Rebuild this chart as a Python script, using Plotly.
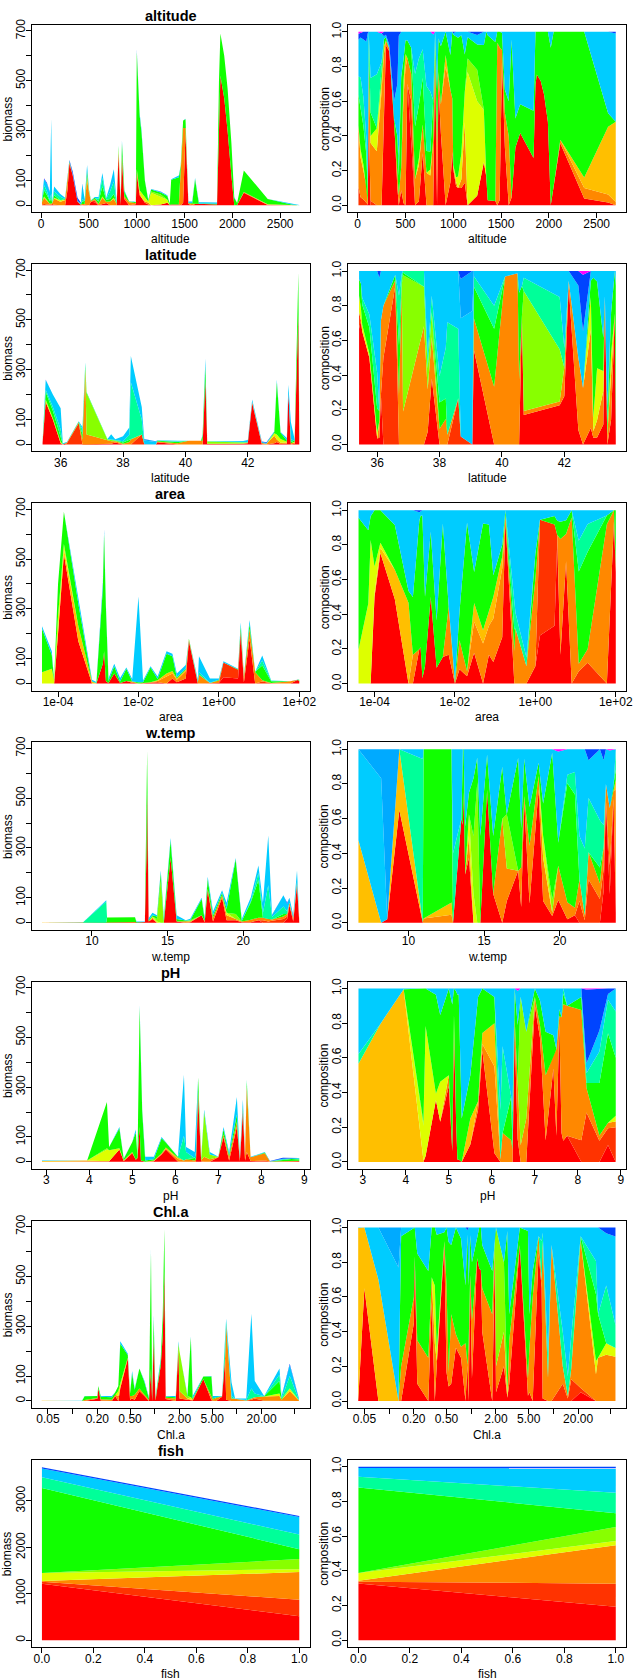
import plotly.graph_objects as go

# ---------------- data ----------------
LAYER_COLORS = ["#FF0000", "#FF3300", "#FF8800", "#FFBF00", "#DDFF00", "#88FF00",
                "#11FF00", "#00FF99", "#00CCFF", "#00AAFF", "#0044FF", "#FF00FF"]
# each row: x, then biomass of the 12 stacked groups (bottom -> top, colours above)

ALTITUDE = [
    [8, 0, 3, 10, 0, 0, 0, 5, 3, 6, 0, 1, 0.3],
    [30, 0, 5, 25, 0, 5, 0, 25, 20, 25, 0, 3, 0.5],
    [60, 0, 3, 15, 0, 3, 0, 20, 15, 30, 0, 4, 0],
    [90, 0, 1, 5, 0, 0, 0, 10, 5, 30, 0, 3, 0],
    [105, 2, 0, 5, 0, 0, 0, 20, 20, 300, 0, 3, 0],
    [115, 5, 0, 3, 0, 0, 0, 2, 0, 0, 0, 0, 0],
    [135, 0, 2, 25, 0, 3, 0, 10, 15, 20, 0, 0, 0],
    [200, 0, 0, 14, 0, 6, 0, 0, 14, 11, 0, 0, 0],
    [250, 0, 0, 20, 2, 0, 0, 3, 0, 5, 0, 0, 0.3],
    [275, 60, 5, 40, 5, 0, 0, 5, 0, 2, 0, 3, 0],
    [295, 168, 0, 5, 0, 0, 0, 3, 0, 3, 0, 3, 0],
    [330, 120, 0, 2, 0, 0, 0, 0, 0, 3, 0, 10, 0],
    [380, 15, 0, 0, 0, 0, 0, 0, 0, 3, 0, 12, 0],
    [415, 1, 0, 1, 0, 0, 0, 2, 0, 3, 0, 3, 0],
    [430, 0, 0, 5, 0, 0, 0, 10, 10, 60, 0, 2, 0],
    [455, 2, 0, 3, 0, 0, 0, 12, 0, 6, 0, 0, 0],
    [480, 2, 0, 100, 10, 5, 0, 20, 0, 25, 0, 0, 0],
    [500, 0, 0, 50, 5, 0, 0, 5, 0, 3, 0, 0, 0],
    [520, 14, 0, 3, 0, 0, 0, 2, 0, 1, 0, 0, 0],
    [560, 12, 8, 5, 0, 0, 0, 5, 0, 3, 0, 0, 0],
    [600, 0, 0, 5, 0, 0, 0, 10, 10, 8, 0, 0, 0],
    [640, 3, 0, 27, 0, 5, 0, 40, 35, 20, 0, 0, 0],
    [680, 9, 0, 5, 0, 0, 0, 8, 5, 3, 0, 0, 0],
    [720, 0, 0, 15, 0, 0, 0, 10, 30, 25, 0, 0, 0],
    [760, 0, 0, 25, 0, 5, 0, 15, 50, 50, 0, 0, 0],
    [790, 0, 0, 5, 0, 0, 0, 3, 0, 5, 0, 0, 0.2],
    [810, 210, 0, 0, 0, 15, 0, 10, 5, 0, 0, 0, 0],
    [830, 0, 0, 5, 0, 0, 0, 5, 0, 5, 0, 0, 0],
    [845, 180, 0, 20, 0, 0, 0, 50, 0, 10, 0, 0, 0],
    [870, 25, 0, 10, 0, 0, 0, 20, 0, 5, 0, 0, 0],
    [920, 0, 0, 12, 1, 0, 0, 2, 0, 0, 0, 0, 0],
    [970, 2, 0, 8, 0, 0, 0, 3, 0, 2, 0, 0, 0],
    [990, 4, 0, 4, 0, 0, 0, 5, 0, 0, 0, 0, 0],
    [1000, 130, 0, 10, 0, 5, 0, 470, 0, 5, 0, 5, 0],
    [1030, 40, 0, 10, 0, 10, 0, 300, 0, 10, 0, 0, 0],
    [1050, 30, 0, 0, 0, 20, 0, 240, 0, 10, 0, 0, 0],
    [1085, 10, 0, 5, 0, 15, 0, 68, 0, 2, 0, 0, 0],
    [1120, 3, 0, 8, 0, 4, 0, 5, 0, 3, 0, 0, 0],
    [1150, 0, 0, 0, 0, 50, 5, 8, 0, 2, 0, 0, 0],
    [1250, 3, 0, 0, 0, 30, 10, 8, 0, 3, 0, 1, 0],
    [1320, 10, 0, 0, 0, 12, 0, 15, 0, 3, 0, 0, 0],
    [1345, 1, 0, 0, 0, 0, 0, 5, 0, 0, 0, 0, 0],
    [1360, 3, 0, 0, 0, 0, 0, 100, 0, 2, 0, 0, 0],
    [1440, 3, 0, 0, 0, 0, 0, 110, 0, 7, 0, 0, 0],
    [1460, 0, 0, 150, 0, 0, 0, 10, 0, 0, 0, 0, 0],
    [1485, 10, 0, 300, 0, 0, 0, 30, 0, 0, 0, 0, 0],
    [1510, 290, 0, 20, 0, 0, 0, 35, 0, 2, 0, 0, 0],
    [1540, 5, 0, 3, 0, 0, 0, 2, 0, 5, 0, 0, 0],
    [1580, 0, 0, 6, 0, 0, 0, 3, 0, 6, 0, 0, 0],
    [1610, 5, 0, 0, 0, 0, 0, 100, 0, 5, 0, 0, 0],
    [1650, 4, 0, 0, 0, 0, 0, 2, 0, 6, 0, 0, 0],
    [1700, 5, 0, 0, 0, 0, 0, 2, 0, 5, 0, 0, 0],
    [1840, 3, 0, 0, 0, 0, 0, 3, 0, 5, 0, 0, 0],
    [1860, 350, 0, 0, 0, 0, 0, 150, 0, 0, 0, 0, 0],
    [1875, 520, 0, 0, 0, 0, 0, 170, 0, 0, 0, 0, 0],
    [1915, 430, 0, 0, 0, 0, 0, 170, 0, 0, 0, 0, 0],
    [1950, 300, 0, 0, 0, 0, 0, 170, 0, 0, 0, 0, 0],
    [1990, 120, 0, 0, 0, 0, 0, 130, 0, 0, 0, 0, 0],
    [2020, 0, 0, 0, 0, 0, 0, 30, 0, 3, 0, 0, 0],
    [2050, 1, 0, 0, 0, 0, 0, 8, 0, 0, 0, 0, 0],
    [2120, 50, 0, 3, 0, 0, 0, 87, 0, 0, 0, 0, 0],
    [2370, 1, 0, 1.5, 1.5, 0, 0, 21, 0, 0, 0, 0, 0],
    [2620, 0.1, 0, 0.3, 2.5, 0, 0, 0.5, 0, 3, 0, 0, 0],
    [2700, 0, 0, 0.02, 0.5, 0, 0, 0, 0, 0.55, 0, 0.01, 0],
]

LATITUDE = [
    [35.42, 7, 1, 0, 0, 1, 0, 1, 0, 0.5, 0, 0, 0],
    [35.48, 100, 0, 0, 0, 10, 0, 20, 0, 10, 0, 0, 0],
    [35.52, 170, 0, 0, 0, 10, 0, 30, 10, 40, 0, 0, 0.3],
    [35.75, 100, 0, 0, 0, 5, 0, 30, 15, 50, 0, 0, 0],
    [36.0, 5, 0, 0, 0, 5, 0, 20, 30, 85, 0, 0, 0],
    [36.07, 0.2, 0, 0.5, 0, 0, 0, 0.3, 0, 4, 0, 0.2, 0],
    [36.12, 2, 0, 3, 0, 0, 0, 0, 0, 2, 0, 0, 0],
    [36.2, 0, 5, 3, 0, 0, 0, 0, 0, 2, 0, 0, 0],
    [36.58, 0, 85, 3, 0, 0, 0, 3, 0, 2, 0, 0, 0],
    [36.7, 0, 0, 20, 0, 0, 0, 20, 20, 10, 0, 0, 0],
    [36.79, 0, 0, 300, 0, 5, 0, 10, 10, 5, 0, 0, 0],
    [36.83, 0, 0, 40, 0, 0, 165, 3, 2, 0, 0, 0, 0],
    [37.5, 0, 0, 15, 0, 0, 5, 0, 2, 0, 0, 0, 0],
    [37.62, 3, 0, 10, 0, 0, 5, 0, 3, 20, 0, 0, 0],
    [37.75, 8, 0, 5, 0, 0, 3, 0, 2, 3, 0, 0, 0],
    [38.0, 0, 0, 3, 0, 0, 0, 5, 5, 20, 0, 0, 0],
    [38.2, 0, 0, 10, 0, 0, 0, 8, 20, 30, 0, 0, 0],
    [38.25, 0, 0, 20, 0, 0, 0, 0, 230, 105, 0, 0, 0],
    [38.6, 0, 40, 0, 0, 0, 0, 0, 60, 50, 0, 0, 0],
    [38.68, 0, 1, 0, 0, 0, 0, 0, 0, 15, 5, 1, 0],
    [39.05, 0, 0, 0, 0, 0, 0, 0, 0, 10, 3, 0, 0],
    [39.1, 9, 0, 3, 0, 0, 0, 3, 1, 0.5, 0, 0, 0],
    [39.75, 0, 0, 5, 0, 0, 0, 5, 2, 3, 0, 0, 0],
    [40.1, 0, 0, 15, 0, 0, 0, 0, 0, 0.5, 0, 0, 0],
    [40.5, 0, 0, 15, 0, 0, 0, 0, 0, 0.2, 0, 0, 0],
    [40.55, 0, 0, 15, 0, 0, 0, 20, 0, 5, 0, 0, 0],
    [40.64, 255, 0, 0, 0, 0, 0, 60, 0, 30, 0, 0, 0],
    [40.7, 2.2, 0, 0.3, 0, 0, 9, 0, 1, 0.5, 0, 0, 0],
    [41.85, 3, 0, 0.3, 0, 0, 4, 0, 4, 2, 0, 0, 0],
    [42.0, 5, 0, 3, 0, 0, 0, 0, 2, 8, 0, 0, 0],
    [42.14, 165, 0, 5, 0, 0, 0, 0, 0, 10, 0, 0, 0],
    [42.45, 1, 0, 5, 0, 0, 0, 0, 0, 5, 0, 1, 0],
    [42.6, 0, 0, 3, 0, 0, 0, 0, 0, 3, 0, 3, 0.2],
    [42.85, 5, 0, 30, 0, 10, 0, 5, 0, 3, 0, 0, 0],
    [42.93, 10, 0, 10, 0, 20, 0, 210, 0, 10, 0, 0, 0],
    [43.05, 2, 0, 5, 0, 15, 0, 25, 0, 3, 0, 0, 0],
    [43.25, 3, 0, 5, 0, 3, 0, 5, 0, 10, 0, 0, 0],
    [43.3, 205, 0, 0, 0, 0, 0, 0, 0, 35, 0, 0, 0],
    [43.38, 0, 0, 5, 0, 0, 0, 5, 10, 70, 0, 0, 0],
    [43.5, 3, 0, 5, 0, 3, 0, 5, 0, 5, 0, 0, 0],
    [43.62, 520, 0, 0, 0, 0, 0, 170, 0, 0, 0, 0, 0],
    [43.65, 3, 0, 2, 0, 0, 0, 50, 0, 5, 0, 0, 0],
]

AREA = [
    [4.0e-5, 0, 0, 0, 0, 45, 0, 175, 0, 10, 0, 0, 0],
    [7.0e-5, 0, 0, 0, 0, 60, 0, 55, 0, 15, 0, 0, 0],
    [8.0e-5, 0, 0, 0, 0, 12, 0, 2, 0, 0.5, 0, 0, 0],
    [1.0e-4, 200, 0, 0, 10, 60, 0, 130, 0, 0, 0, 0, 0],
    [1.4e-4, 520, 0, 0, 20, 20, 0, 130, 0, 0, 0, 0, 0],
    [3.2e-4, 170, 0, 0, 60, 0, 0, 90, 0, 30, 0, 0, 0],
    [7.0e-4, 0, 0, 0, 7, 0, 0, 1, 0, 7, 0, 0, 0],
    [9.0e-4, 0, 0, 1, 0, 0, 0, 2, 0, 3, 0, 0, 0],
    [1.3e-3, 80, 0, 0, 0, 0, 0, 300, 0, 20, 0, 5, 0],
    [1.4e-3, 130, 0, 0, 0, 0, 0, 470, 0, 15, 0, 5, 0],
    [1.55e-3, 10, 0, 0, 0, 0, 0, 300, 0, 10, 0, 0, 0],
    [1.8e-3, 2, 0, 0, 0, 0, 0, 8, 0, 10, 0, 0, 0],
    [2.5e-3, 40, 0, 0, 0, 0, 0, 30, 0, 10, 0, 0, 0],
    [3.5e-3, 2, 0, 0, 0, 0, 0, 6, 0, 14, 0, 0, 0],
    [5.0e-3, 10, 0, 0, 0, 0, 0, 50, 0, 5, 0, 0, 0],
    [7.0e-3, 3, 0, 5, 0, 0, 0, 0, 0, 10, 0, 0, 0],
    [1.0e-2, 0, 0, 0, 0, 0, 0, 5, 0, 345, 0, 0, 0],
    [1.3e-2, 1, 0, 2, 0, 0, 0, 2, 0, 7, 0, 0, 0],
    [2.0e-2, 3, 0, 2, 0, 0, 0, 60, 0, 5, 0, 0, 0],
    [3.0e-2, 5, 0, 5, 3, 0, 0, 5, 0, 10, 0, 0, 0],
    [5.0e-2, 0, 0, 30, 10, 0, 0, 80, 0, 10, 0, 0, 0],
    [7.0e-2, 20, 0, 20, 10, 0, 0, 60, 0, 10, 0, 0, 0],
    [9.0e-2, 5, 0, 10, 5, 0, 0, 5, 0, 15, 0, 0, 0],
    [1.5e-1, 20, 0, 30, 5, 0, 0, 5, 0, 15, 0, 0, 0],
    [1.8e-1, 170, 0, 5, 0, 0, 0, 5, 0, 0, 0, 0, 0],
    [3.0e-1, 0, 0, 3, 0, 0, 0, 2, 3, 8, 0, 0, 0],
    [3.2e-1, 0, 0, 35, 0, 0, 0, 0, 10, 65, 0, 0, 0],
    [6.0e-1, 0, 0, 2, 0, 0, 0, 0, 1, 17, 0, 0, 0],
    [1.0, 2, 0, 10, 0, 0, 0, 3, 0, 5, 0, 0, 0],
    [1.3, 25, 60, 0, 0, 0, 0, 0, 0, 5, 0, 0, 0],
    [3.0, 20, 35, 0, 0, 0, 0, 3, 0, 2, 0, 0, 0],
    [3.5, 200, 10, 0, 0, 0, 0, 20, 0, 15, 0, 0, 0],
    [4.2, 5, 0, 20, 0, 0, 0, 3, 0, 2, 0, 0, 0],
    [5.8, 180, 0, 40, 0, 0, 0, 20, 0, 15, 0, 0, 0],
    [8.0, 0, 0, 45, 0, 0, 0, 2, 0, 0, 0, 0, 0],
    [12.0, 0, 8, 5, 0, 0, 0, 60, 20, 20, 0, 0, 0],
    [20.0, 0, 1.5, 1, 0, 0, 0, 7, 2, 1, 0, 0, 0],
    [60.0, 0, 0, 9, 0, 0, 0, 0.5, 0, 0.3, 0, 0, 0],
    [90.0, 14, 0, 1, 0, 0, 0, 0, 0, 0, 0, 0, 0],
    [100.0, 10, 0, 0.5, 0, 0, 0, 5, 0, 0, 0, 0, 0],
]

W_TEMP = [
    [6.7, 0, 0, 0, 0.5, 0, 0, 0, 0, 0.55, 0, 0, 0],
    [8.2, 0, 0, 0, 0, 0, 0, 0, 0, 1, 0.2, 0, 0],
    [8.6, 0.02, 0, 0, 0, 0, 0, 0, 0, 0, 1, 0, 0],
    [9.4, 0.65, 0, 0, 0.35, 0, 0, 0, 0, 0, 0, 0, 0],
    [10.95, 0.1, 0, 0, 0, 0, 0, 0, 85, 5, 0, 0, 0],
    [11.0, 0, 0, 0.5, 0, 0, 0, 20, 0, 0, 0, 0, 0],
    [12.85, 0, 0, 1, 1.5, 0, 0, 19, 0, 0, 0, 0, 0],
    [12.95, 0, 0, 0, 0, 0, 0, 0, 2, 3, 0, 0, 0],
    [13.5, 3, 0, 0, 0, 0, 0, 0, 0, 2, 0, 0, 0],
    [13.6, 260, 0, 0, 0, 0, 0, 200, 0, 0, 0, 0, 0],
    [13.65, 520, 0, 0, 0, 0, 0, 170, 0, 0, 0, 0, 0],
    [13.75, 5, 0, 0, 0, 0, 0, 5, 0, 8, 0, 0, 0],
    [14.0, 15, 0, 5, 0, 5, 0, 5, 0, 10, 0, 0, 0],
    [14.3, 0, 0, 0, 0, 5, 10, 10, 0, 5, 0, 0, 0],
    [14.55, 0, 0, 0, 0, 0, 170, 30, 0, 10, 0, 0, 0],
    [14.75, 0, 0, 0, 0, 0, 0, 10, 0, 10, 0, 0, 0],
    [15.2, 260, 0, 0, 0, 0, 0, 70, 0, 10, 0, 0, 0],
    [15.6, 5, 0, 0, 0, 0, 0, 10, 0, 15, 0, 0, 0],
    [16.2, 0, 0, 6, 0, 0, 0, 3, 0, 1, 0, 0, 0],
    [16.5, 2, 0, 3, 0, 0, 5, 0, 0, 6, 0, 0, 0],
    [17.25, 30, 0, 0, 0, 0, 0, 65, 0, 5, 0, 0, 0],
    [17.45, 2, 0, 5, 0, 0, 0, 5, 0, 10, 0, 0, 0],
    [17.65, 130, 0, 5, 0, 0, 0, 40, 0, 10, 0, 0, 0],
    [18.0, 5, 0, 15, 0, 0, 0, 10, 0, 15, 0, 0, 0],
    [18.6, 100, 0, 10, 0, 0, 0, 10, 0, 10, 0, 0, 0],
    [18.9, 10, 0, 20, 0, 10, 0, 15, 0, 25, 0, 0, 0],
    [19.5, 10, 0, 5, 0, 0, 20, 220, 0, 5, 0, 0, 0],
    [19.9, 2, 0, 3, 0, 0, 0, 2, 0, 8, 0, 0, 0.2],
    [20.5, 2, 0, 10, 0, 0, 0, 70, 5, 15, 0, 0, 0],
    [21.0, 10, 0, 10, 0, 0, 0, 150, 30, 30, 0, 0, 0],
    [21.3, 0, 10, 10, 0, 0, 0, 0, 20, 40, 0, 0, 0],
    [21.65, 0, 5, 10, 0, 0, 0, 0, 135, 200, 0, 0, 0],
    [21.9, 0, 8, 5, 0, 0, 0, 0, 10, 7, 0, 2, 0],
    [22.65, 0, 15, 10, 0, 0, 0, 10, 30, 45, 0, 0, 0],
    [22.9, 15, 10, 10, 0, 0, 0, 0, 10, 30, 0, 5, 0],
    [23.05, 70, 0, 10, 0, 0, 0, 0, 0, 20, 0, 0, 0],
    [23.3, 5, 5, 10, 0, 0, 0, 0, 0, 10, 0, 0, 0.2],
    [23.55, 150, 0, 10, 0, 0, 0, 5, 0, 45, 0, 0, 0],
    [23.7, 1, 2, 10, 1, 0, 0, 1, 2, 0, 0, 0, 0],
]

PH = [
    [2.9, 0, 0, 0, 3, 0, 0, 0, 0.3, 2, 0, 0, 0],
    [3.42, 0, 0, 0, 4, 0, 0, 0, 0, 1, 0, 0, 0],
    [3.95, 0, 0, 0, 5, 0, 0, 0, 0, 0.02, 0, 0, 0],
    [4.41, 0, 0, 0, 2, 48, 5, 185, 0, 0, 0, 0, 0],
    [4.46, 2, 0, 0, 0, 45, 0, 13, 0, 0, 0, 0, 0],
    [4.7, 50, 0, 0, 0, 5, 0, 80, 0, 5, 0, 0, 0],
    [4.8, 3, 0, 0, 0, 3, 0, 5, 0, 2, 0, 0, 0],
    [5.0, 35, 0, 5, 0, 0, 0, 40, 0, 0, 0, 0, 0],
    [5.08, 8, 0, 0, 0, 0, 0, 110, 0, 12, 0, 0, 0],
    [5.12, 15, 0, 0, 0, 2, 0, 3, 0, 0, 0, 0, 0],
    [5.17, 140, 0, 0, 0, 0, 0, 480, 0, 10, 0, 0, 0],
    [5.2, 5, 0, 0, 0, 0, 0, 400, 0, 15, 0, 0, 0],
    [5.23, 3, 0, 0, 0, 0, 0, 200, 0, 7, 0, 0, 0],
    [5.3, 0, 0, 0, 0, 0, 0, 5, 0, 15, 0, 0, 0],
    [5.5, 2, 0, 0, 3, 0, 0, 5, 0, 10, 0, 0, 0],
    [5.68, 30, 0, 5, 0, 0, 0, 60, 0, 5, 0, 0, 0],
    [5.78, 50, 0, 3, 5, 0, 0, 20, 0, 0, 0, 0, 0],
    [6.06, 1, 0, 10, 5, 0, 0, 3, 0, 1, 0, 0, 0],
    [6.2, 0, 0, 5, 0, 0, 0, 0, 100, 245, 0, 0, 0],
    [6.25, 0, 0, 10, 0, 0, 0, 0, 30, 20, 0, 0, 0],
    [6.45, 0, 0, 5, 0, 0, 0, 10, 0, 25, 0, 0, 0],
    [6.48, 0, 0, 10, 0, 0, 0, 0, 30, 100, 0, 0, 0],
    [6.53, 260, 0, 20, 0, 0, 0, 60, 0, 0, 0, 0, 0],
    [6.6, 2, 0, 5, 0, 0, 0, 5, 0, 3, 0, 0, 0.2],
    [6.67, 0, 0, 20, 0, 0, 180, 0, 0, 10, 0, 0, 0],
    [6.8, 0, 0, 10, 0, 0, 20, 0, 0, 10, 0, 0, 0],
    [7.0, 18, 0, 1, 0, 0, 0, 1, 0, 0, 0, 0, 0],
    [7.12, 100, 0, 10, 0, 0, 0, 20, 0, 10, 0, 0, 0],
    [7.25, 5, 0, 15, 0, 0, 0, 10, 0, 10, 0, 0, 0],
    [7.43, 140, 0, 20, 0, 0, 0, 30, 0, 70, 0, 0, 0],
    [7.5, 3, 0, 10, 0, 0, 0, 0, 0, 7, 0, 0, 0],
    [7.57, 200, 0, 10, 0, 0, 0, 10, 0, 30, 0, 0, 0],
    [7.62, 5, 0, 20, 0, 0, 0, 0, 0, 5, 0, 0, 0],
    [7.66, 40, 0, 260, 0, 0, 0, 20, 10, 0, 0, 0, 0],
    [7.75, 3, 0, 15, 0, 0, 0, 0, 0, 2, 0, 0, 0],
    [8.08, 0, 5, 30, 0, 0, 0, 3, 0, 2, 0, 0, 0],
    [8.2, 0, 1, 0.5, 0, 0, 0, 0.1, 0.2, 0.2, 0, 1.5, 0.02],
    [8.5, 0, 2, 0.5, 0, 0, 0, 5, 3, 2, 0, 4, 0],
    [8.7, 1.5, 1.5, 0.5, 0, 0, 0, 8, 3, 0.5, 0, 0.5, 0],
    [8.88, 0, 3, 0.5, 0, 0.5, 0, 5, 4, 2, 0, 0, 0],
]

CHL_A = [
    [0.042, 0, 0, 0, 1, 0, 0, 0, 0, 0.002, 0, 0, 0],
    [0.05, 0.65, 0, 0, 0.35, 0, 0, 0, 0, 0, 0, 0, 0],
    [0.074, 0, 0, 0, 0.7, 0, 0, 0, 0, 0.3, 0, 0, 0],
    [0.13, 0, 0, 0, 0, 0, 0, 0, 0, 1, 0.3, 0, 0],
    [0.14, 0, 0, 4, 0, 0, 0, 15, 0, 1, 0, 0, 0],
    [0.2, 9, 0, 3, 0, 0, 0, 8, 0, 0, 0, 0, 0],
    [0.205, 50, 0, 0, 0, 0, 0, 10, 0, 0, 0, 0, 0],
    [0.22, 2, 0, 5, 0, 0, 0, 10, 0, 3, 0, 0, 0],
    [0.3, 0, 0, 5, 0, 0, 0, 10, 0, 5, 0, 0, 0],
    [0.33, 20, 0, 5, 0, 0, 0, 10, 0, 0, 0, 0, 0],
    [0.36, 0, 0, 20, 0, 20, 0, 20, 0, 0, 0, 0, 0],
    [0.38, 50, 0, 5, 0, 15, 0, 160, 0, 10, 0, 0, 0],
    [0.47, 170, 0, 5, 0, 0, 0, 10, 0, 5, 0, 0, 0],
    [0.5, 5, 0, 15, 0, 0, 0, 10, 0, 0, 0, 0, 0],
    [0.53, 10, 0, 10, 0, 0, 0, 90, 0, 10, 0, 0, 0],
    [0.57, 5, 0, 20, 0, 0, 0, 20, 0, 5, 0, 0, 0],
    [0.65, 40, 0, 10, 0, 0, 0, 80, 0, 0, 0, 0, 0],
    [0.75, 20, 0, 5, 0, 0, 0, 50, 0, 5, 0, 0, 0],
    [0.85, 0, 0, 5, 0, 0, 0, 5, 0, 5, 0, 0, 0],
    [0.9, 130, 0, 0, 0, 0, 0, 470, 0, 15, 0, 10, 0],
    [0.93, 0, 0, 5, 0, 0, 0, 5, 0, 5, 0, 0, 0],
    [0.97, 250, 0, 0, 0, 0, 0, 80, 0, 15, 0, 0, 0],
    [1.02, 2, 0, 5, 0, 0, 0, 5, 0, 3, 0, 0, 0],
    [1.18, 140, 0, 0, 0, 0, 0, 20, 0, 10, 0, 0, 0],
    [1.25, 260, 0, 0, 0, 0, 0, 80, 0, 0, 0, 0, 0],
    [1.31, 520, 0, 0, 0, 0, 0, 170, 0, 0, 0, 0, 0],
    [1.36, 8, 0, 5, 0, 0, 0, 5, 0, 2, 0, 0, 0],
    [1.8, 0, 0, 10, 0, 0, 0, 5, 0, 5, 0, 0, 0],
    [1.94, 210, 0, 0, 0, 0, 20, 0, 0, 10, 0, 0, 0],
    [2.0, 10, 0, 30, 0, 0, 160, 0, 0, 0, 0, 0, 0],
    [2.5, 5, 0, 5, 0, 0, 10, 0, 0, 5, 0, 0, 0],
    [2.75, 5, 0, 0, 0, 10, 0, 240, 0, 5, 0, 0, 0],
    [2.9, 2, 0, 5, 0, 0, 0, 3, 0, 10, 0, 0, 0],
    [3.9, 88, 0, 0, 0, 0, 0, 10, 0, 0, 0, 0, 0],
    [4.9, 3, 0, 10, 0, 0, 0, 85, 0, 2, 0, 0, 0],
    [5.1, 1, 0, 5, 0, 0, 0, 4, 0, 10, 0, 0, 0],
    [5.6, 0, 0, 12, 0, 0, 0, 3, 0, 5, 0, 0, 0],
    [6.6, 17, 0, 2, 0, 0, 0, 0, 0, 1, 0, 0, 0],
    [7.2, 170, 0, 10, 0, 0, 0, 0, 60, 20, 0, 0, 0],
    [7.4, 5, 0, 300, 0, 0, 0, 0, 15, 10, 0, 0, 0],
    [8.6, 0, 0, 10, 0, 0, 0, 0, 10, 55, 0, 0, 0],
    [9.5, 0, 0, 9, 0, 0, 0, 0, 0, 1, 0, 0, 0],
    [13.0, 0, 1, 1, 0, 0, 0, 0, 2, 6, 0, 0, 0],
    [15.0, 0, 5, 5, 0, 0, 0, 0, 40, 300, 0, 0, 0],
    [16.5, 0, 10, 5, 0, 0, 0, 0, 15, 50, 0, 0, 0],
    [21.5, 1, 0.5, 17, 0, 0, 0, 0.5, 0, 1, 0, 0, 0],
    [33.0, 0, 0, 20, 0, 10, 0, 50, 25, 25, 0, 0, 0],
    [35.0, 0, 0, 5, 0, 0, 0, 5, 0, 10, 0, 0, 0],
    [44.0, 0, 0, 40, 0, 10, 0, 0, 50, 45, 0, 5, 0],
    [57.0, 0, 0, 2.5, 0, 0.5, 0, 0, 1.3, 5, 0, 0.5, 0],
]

FISH = [
    [0, 1217, 40, 20, 0, 168, 0, 1835, 230, 190, 0, 25, 0],
    [1, 515, 358, 594, 0, 63, 217, 214, 315, 377, 0, 25, 0],
]

# panel titles, axis kinds, ranges and ticks
PANELS = [
    ("altitude", ALTITUDE, "linear", [-100, 2808], [0, 500, 1000, 1500, 2000, 2500],
     ["0", "500", "1000", "1500", "2000", "2500"]),
    ("latitude", LATITUDE, "linear", [35.07, 43.98], [36, 38, 40, 42, 44],
     ["36", "38", "40", "42", "44"]),
    ("area", AREA, "log", [-4.656, 2.256], [1e-4, 1e-2, 1, 100],
     ["1e-04", "1e-02", "1e+00", "1e+02"]),
    ("w.temp", W_TEMP, "linear", [6.02, 24.38], [10, 15, 20], ["10", "15", "20"]),
    ("pH", PH, "linear", [2.66, 9.12], [3, 4, 5, 6, 7, 8, 9],
     ["3", "4", "5", "6", "7", "8", "9"]),
    ("Chl.a", CHL_A, "log", [-1.499, 1.885], [0.05, 0.1, 0.2, 0.5, 1, 2, 5, 10, 20, 50],
     ["0.05", "", "0.20", "0.50", "", "2.00", "5.00", "", "20.00", ""]),
    ("fish", FISH, "linear", [-0.04, 1.04], [0, 0.2, 0.4, 0.6, 0.8, 1.0],
     ["0.0", "0.2", "0.4", "0.6", "0.8", "1.0"]),
]

BIO_TICKS = [0, 100, 200, 300, 400, 500, 600, 700]
BIO_TEXT = ["0", "100", "", "300", "", "500", "", "700"]
FISH_TICKS = [0, 1000, 2000, 3000]
FISH_TEXT = ["0", "1000", "2000", "3000"]
COMP_TICKS = [0, 0.2, 0.4, 0.6, 0.8, 1.0]
COMP_TEXT = ["0.0", "0.2", "0.4", "0.6", "0.8", "1.0"]

# ---------------- figure ----------------
W, H = 640, 1680
FONT = "Liberation Sans, Arial, Helvetica, sans-serif"
LEFT_PX = (32, 313)
RIGHT_PX = (352, 633)
ROW_H = 240
BOX_TOP, BOX_BOT = 19, 207

fig = go.Figure()
layout = dict(
    width=W, height=H, margin=dict(l=0, r=0, t=0, b=0),
    paper_bgcolor="white", plot_bgcolor="white", showlegend=False,
    font=dict(family=FONT, size=12, color="black"),
)
annotations = []


def axis_common():
    return dict(showline=True, mirror=True, linecolor="black", linewidth=1,
                ticks="outside", ticklen=5, tickwidth=1, tickcolor="black",
                showgrid=False, zeroline=False,
                tickfont=dict(family=FONT, size=12, color="black"))


for r, (name, rows, xtype, xrange_, xtv, xtt) in enumerate(PANELS):
    xs = [row[0] for row in rows]
    top = ROW_H * r + BOX_TOP
    bot = ROW_H * r + BOX_BOT
    ydom = [1 - bot / H, 1 - top / H]
    for side in (0, 1):
        idx = 2 * r + side + 1
        xa = "x" if idx == 1 else f"x{idx}"
        ya = "y" if idx == 1 else f"y{idx}"
        for j, col in enumerate(LAYER_COLORS):
            ys = [row[j + 1] for row in rows]
            tr = dict(x=xs, y=ys, mode="lines", line=dict(width=0, color=col),
                      fillcolor=col, stackgroup=f"s{idx}", xaxis=xa, yaxis=ya,
                      hoverinfo="skip", showlegend=False)
            if side == 1 and j == 0:
                tr["groupnorm"] = "fraction"
            fig.add_trace(go.Scatter(**tr))
        px0, px1 = LEFT_PX if side == 0 else RIGHT_PX
        xkey = "xaxis" if idx == 1 else f"xaxis{idx}"
        ykey = "yaxis" if idx == 1 else f"yaxis{idx}"
        xa_d = axis_common()
        xa_d.update(domain=[px0 / W, px1 / W], anchor=ya, type=xtype, range=xrange_,
                    tickmode="array", tickvals=xtv, ticktext=xtt, tickangle=0,
                    ticklabelstandoff=-5)
        ya_d = axis_common()
        if side == 1:
            ya_d.update(range=[-0.04, 1.04], tickvals=COMP_TICKS, ticktext=COMP_TEXT)
        elif name == "fish":
            ya_d.update(range=[-150, 3887], tickvals=FISH_TICKS, ticktext=FISH_TEXT)
        else:
            ya_d.update(range=[-28, 724], tickvals=BIO_TICKS, ticktext=BIO_TEXT)
        ya_d.update(domain=ydom, anchor=xa, tickmode="array", tickangle=-90,
                    ticklabelstandoff=-4)
        layout[xkey] = xa_d
        layout[ykey] = ya_d
        cx = (px0 + px1) / 2
        # x-axis title
        annotations.append(dict(text=name, x=cx / W, y=1 - (ROW_H * r + 234) / H,
                                xref="paper", yref="paper", showarrow=False,
                                xanchor="center", yanchor="middle",
                                font=dict(family=FONT, size=12, color="black")))
        # y-axis title
        annotations.append(dict(text="biomass" if side == 0 else "composition",
                                x=(px0 - 24) / W, y=1 - (ROW_H * r + 113) / H,
                                xref="paper", yref="paper", showarrow=False,
                                textangle=-90, xanchor="center", yanchor="middle",
                                font=dict(family=FONT, size=12, color="black")))
        if side == 0:
            annotations.append(dict(text=f"<b>{name}</b>", x=cx / W,
                                    y=1 - (ROW_H * r + 10) / H,
                                    xref="paper", yref="paper", showarrow=False,
                                    xanchor="center", yanchor="middle",
                                    font=dict(family=FONT, size=14.5, color="black")))

layout["annotations"] = annotations
fig.update_layout(**layout)
fig.write_html("out.html")
